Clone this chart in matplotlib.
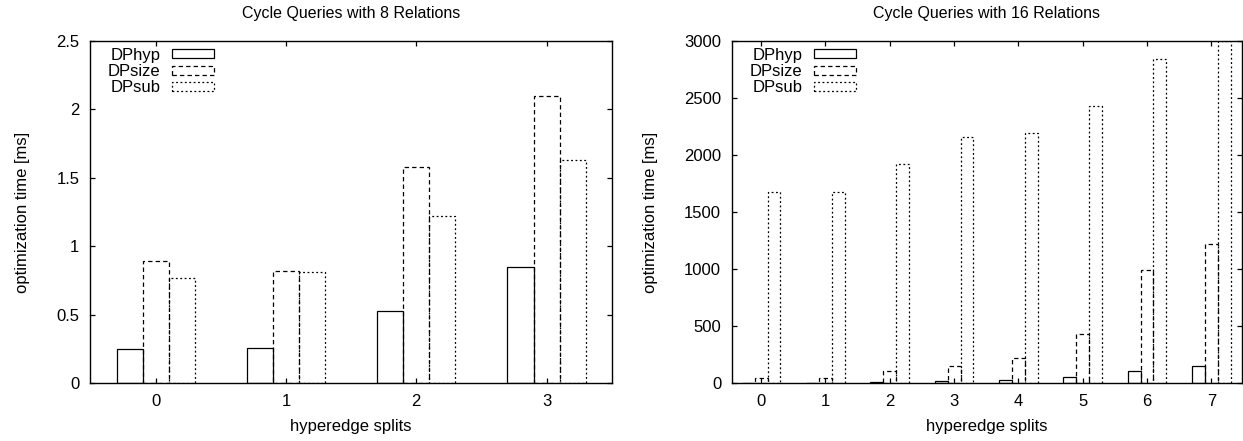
import matplotlib
matplotlib.use("Agg")
import matplotlib.pyplot as plt
from matplotlib.patches import Rectangle
from matplotlib.transforms import offset_copy

# data
series = ["DPhyp", "DPsize", "DPsub"]

splits_8 = [0, 1, 2, 3]
dphyp_8 = [0.25, 0.26, 0.53, 0.85]
dpsize_8 = [0.89, 0.82, 1.58, 2.10]
dpsub_8 = [0.77, 0.81, 1.22, 1.63]

splits_16 = [0, 1, 2, 3, 4, 5, 6, 7]
dphyp_16 = [3, 4, 9, 18, 28, 51, 109, 153]
dpsize_16 = [49, 44, 107, 150, 218, 434, 992, 1217]
dpsub_16 = [1678, 1678, 1917, 2154, 2195, 2431, 2837, 2995]

plt.rcParams["font.family"] = ["Liberation Sans", "DejaVu Sans"]
plt.rcParams["font.size"] = 12

styles = [
    dict(linestyle="-"),
    dict(linestyle=(0, (3.5, 2.5))),
    dict(linestyle=(0, (1.5, 2))),
]
width = 0.2
offsets = [-width, 0.0, width]


def draw_panel(ax, fig, splits, values, title, ylim, yticks, xlim):
    for off, vals, st in zip(offsets, values, styles):
        ax.bar([x + off for x in splits], vals, width=width, facecolor="none",
               edgecolor="black", linewidth=0.9, **st)
    ax.set_xlim(*xlim)
    ax.set_ylim(*ylim)
    ax.set_xticks(splits)
    ax.set_yticks(yticks)
    ax.set_yticklabels([f"{t:g}" for t in yticks])
    ax.tick_params(direction="in", length=3.8, width=0.9, top=True, right=True, pad=8)
    for sp in ax.spines.values():
        sp.set_linewidth(1.0)
    ax.set_title(title, fontsize=11.5, pad=16)
    ax.set_xlabel("hyperedge splits", labelpad=7)
    ax.set_ylabel("optimization time [ms]", labelpad=19)

    handles = [Rectangle((0, 0), 1, 1, facecolor="none", edgecolor="black", linewidth=0.9, **st)
               for st in styles]
    ax.legend(handles, series, loc="upper left", frameon=False, markerfirst=False,
              handlelength=2.5, handleheight=0.45, handletextpad=0.7, labelspacing=0.08,
              borderpad=0, borderaxespad=0,
              bbox_to_anchor=(0, 1),
              bbox_transform=offset_copy(ax.transAxes, fig, x=12.5, y=-5, units="points"))


fig = plt.figure(figsize=(12.43, 4.41), dpi=100)
ax1 = fig.add_axes([0.0728, 0.1308, 0.4193, 0.7769])
ax2 = fig.add_axes([0.5891, 0.1308, 0.4097, 0.7769])

draw_panel(ax1, fig, splits_8, [dphyp_8, dpsize_8, dpsub_8],
           "Cycle Queries with 8 Relations", (0, 2.5),
           [0, 0.5, 1, 1.5, 2, 2.5], (-0.5, 3.5))
draw_panel(ax2, fig, splits_16, [dphyp_16, dpsize_16, dpsub_16],
           "Cycle Queries with 16 Relations", (0, 3000),
           [0, 500, 1000, 1500, 2000, 2500, 3000], (-0.45, 7.47))

fig.savefig("out.png", dpi=100)
